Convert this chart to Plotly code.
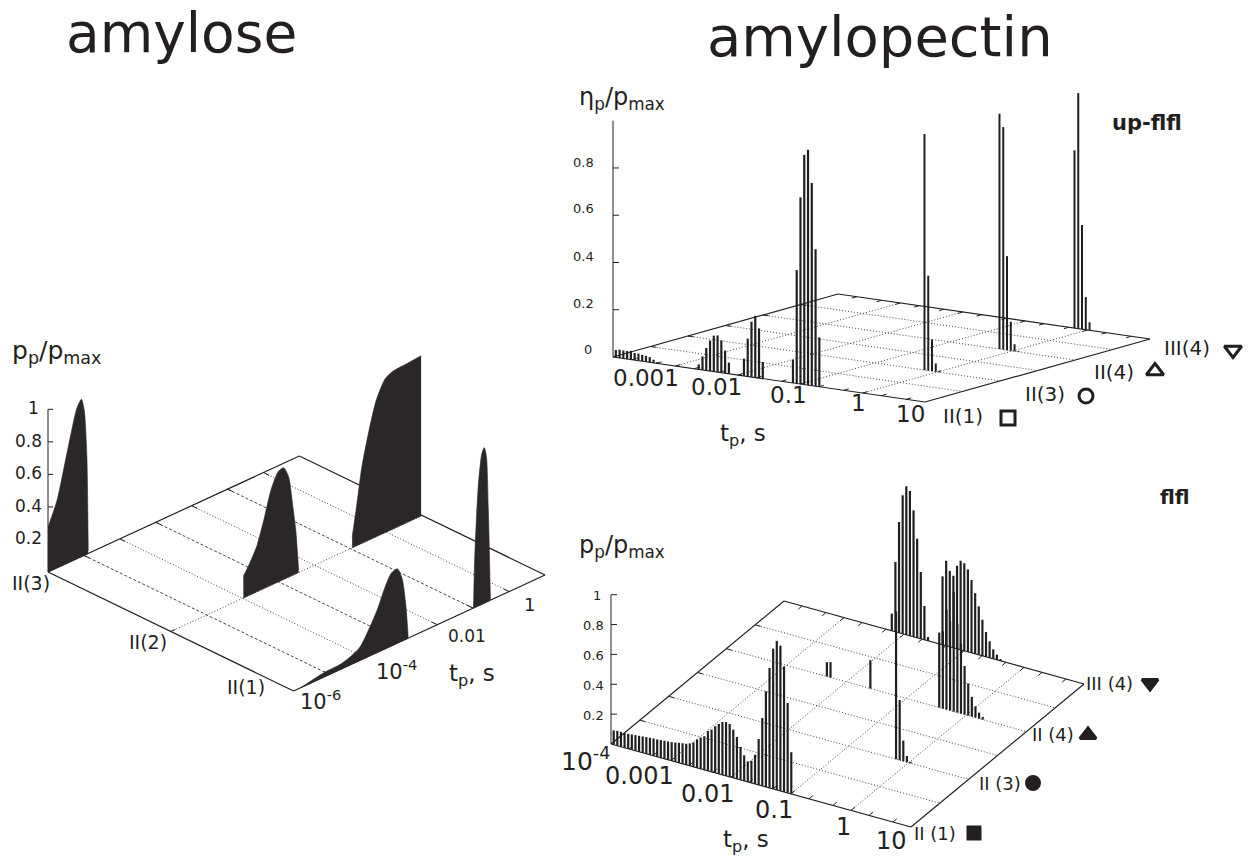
import numpy as np
import plotly.graph_objects as go

INK = "#231f20"
GRID = "#4a4748"
FONT = "DejaVu Sans"

# ---- amylose: (log10 t, p/pmax) outlines of the filled peaks
AM_1A_LOGT = [-5.80, -5.16, -4.66, -4.17, -3.87, -3.67, -3.43, -3.28, -3.11, -2.98, -2.88, -2.81]
AM_1A_VAL = [0.0, 0.027, 0.033, 0.078, 0.18, 0.262, 0.391, 0.447, 0.457, 0.385, 0.221, 0.01]
AM_1B_LOGT = [-0.99, -0.96, -0.86, -0.76, -0.69, -0.63, -0.58, -0.52]
AM_1B_VAL = [0.006, 0.289, 0.73, 0.924, 0.955, 0.891, 0.578, 0.008]
AM_2A_LOGT = [-3.98, -3.80, -3.61, -3.41, -3.21, -3.01, -2.86, -2.72, -2.60, -2.52, -2.44]
AM_2A_VAL = [0.133, 0.197, 0.279, 0.422, 0.586, 0.678, 0.687, 0.617, 0.42, 0.268, 0.014]
AM_2B_LOGT = [-0.95, -0.83, -0.68, -0.48, -0.28, -0.03, 0.21, 0.46, 0.97]
AM_2B_VAL = [0.067, 0.238, 0.469, 0.674, 0.838, 0.945, 0.971, 0.975, 0.985]
AM_3A_LOGT = [-6.0, -5.75, -5.55, -5.35, -5.2, -5.07, -4.99, -4.92, -4.88]
AM_3A_VAL = [0.277, 0.414, 0.6, 0.794, 0.922, 0.967, 0.891, 0.617, 0.02]

# ---- amylopectin: histogram bins (index on a log-t grid) and heights
UF_II1_BIN = [0, 1, 2, 3, 4, 5, 6, 7, 8, 9, 10, 11, 22, 23, 24, 25, 26, 27, 28, 29, 30, 33,
              34, 35, 36, 37, 38, 39, 47, 48, 49, 50, 51, 52, 53, 54]
UF_II1_VAL = [0.031, 0.035, 0.034, 0.034, 0.037, 0.03, 0.03, 0.027, 0.025, 0.022, 0.013, 0.005,
              0.021, 0.057, 0.095, 0.129, 0.152, 0.155, 0.136, 0.096, 0.047, 0.005,
              0.073, 0.16, 0.234, 0.261, 0.21, 0.07,
              0.099, 0.48, 0.79, 0.972, 0.996, 0.858, 0.58, 0.209]
UF_II3_BIN = [62, 63, 64, 65, 66]
UF_II3_VAL = [0.999, 0.402, 0.134, 0.035, 0.007]
UF_II4_BIN = [62, 63, 64, 65, 66, 67]
UF_II4_VAL = [0.996, 0.942, 0.398, 0.123, 0.03, 0.004]
UF_III4_BIN = [62, 63, 64, 65, 66]
UF_III4_VAL = [0.752, 0.997, 0.441, 0.138, 0.034]

FL_II1_BIN = list(range(50))
FL_II1_VAL = [0.096, 0.1, 0.1, 0.098, 0.1, 0.103, 0.105, 0.107, 0.109, 0.112, 0.114, 0.116,
              0.116, 0.118, 0.121, 0.123, 0.125, 0.129, 0.134, 0.138, 0.141, 0.15, 0.163, 0.19,
              0.208, 0.225, 0.266, 0.283, 0.312, 0.334, 0.354, 0.36, 0.354, 0.323, 0.28, 0.22,
              0.171, 0.137, 0.148, 0.195, 0.307, 0.454, 0.64, 0.803, 0.939, 0.998, 0.972, 0.84,
              0.602, 0.279]
FL_II3_BIN = [62, 63, 64, 65, 66]
FL_II3_VAL = [0.99, 0.404, 0.138, 0.042, 0.01]
FL_II4_BIN = [27, 28, 39, 58, 59, 60, 61, 62, 63, 64, 65, 66, 67, 68, 69, 70]
FL_II4_VAL = [0.096, 0.103, 0.19, 0.502, 0.518, 0.67, 0.6, 0.8, 0.594, 0.47, 0.326, 0.214,
              0.132, 0.076, 0.04, 0.018]
FL_III4_BIN = [29, 30, 31, 32, 33, 34, 35, 36, 37, 38, 39,
               43, 44, 45, 46, 47, 48, 49, 50, 51, 52, 53, 54, 55, 56, 57, 58, 59]
FL_III4_VAL = [0.115, 0.468, 0.742, 0.928, 0.995, 0.97, 0.847, 0.664, 0.448, 0.227, 0.026,
               0.459, 0.57, 0.509, 0.483, 0.557, 0.597, 0.587, 0.552, 0.488, 0.407, 0.325,
               0.242, 0.167, 0.111, 0.064, 0.035, 0.012]

BIN_START = -3.955
BIN_STEP = 0.0604


class Panel:
    """Oblique floor projection: u along log t, v across categories, z upward."""

    def __init__(self, origin, uvec, vvec, zscale, lo, hi):
        self.o, self.uv, self.vv, self.zs = np.array(origin, float), np.array(uvec, float), np.array(vvec, float), zscale
        self.lo, self.hi = lo, hi

    def p(self, logt, v, z=0.0):
        u = (logt - self.lo) / (self.hi - self.lo)
        return self.o + u * self.uv + v * self.vv + np.array([0.0, -z * self.zs])


PA = Panel((293.6, 691), (251.4, -116), (-245.6, -119), 162.7, -6, 1)
PB = Panel((613, 357), (312, 45), (225, -63), 236.3, -4, 1)
PC = Panel((611, 744), (300, 83), (173, -143), 149.3, -4, 1)

fig = go.Figure()


def seg(points, width=1.0, dash=None, color=INK):
    xs, ys = [], []
    for a, b in points:
        xs += [a[0], b[0], None]
        ys += [a[1], b[1], None]
    fig.add_trace(go.Scatter(x=xs, y=ys, mode="lines", hoverinfo="skip", showlegend=False,
                             line=dict(color=color, width=width, dash=dash)))


def floor(P, decades, vlines, dashes=None, minors=True):
    c = [P.p(P.lo, 0), P.p(P.hi, 0), P.p(P.hi, 1), P.p(P.lo, 1)]
    seg([(c[i], c[(i + 1) % 4]) for i in range(4)], 1.2, None, INK)
    dot = "1px,2px"
    for i, d in enumerate(decades):
        style = dashes[i] if dashes else dot
        seg([(P.p(d, 0), P.p(d, 1))], 1.0, style, GRID)
    for v in vlines:
        seg([(P.p(P.lo, v), P.p(P.hi, v))], 1.0, dot, GRID)
    ticks = []
    tl = 0.018 * (P.hi - P.lo)
    for v in vlines:
        ticks.append((P.p(P.lo, v), P.p(P.lo + tl, v)))
    mult = [0.0, 0.301, 0.699] if minors else [0.0]
    for d in range(P.lo, P.hi):
        for m in mult:
            if d + m == P.lo:
                continue
            ticks.append((P.p(d + m, 0), P.p(d + m, 0.022)))
            ticks.append((P.p(d + m, 1), P.p(d + m, 0.978)))
    seg(ticks, 1.0, None, INK)


def zaxis(P, v, top, tick_vals, tick_px):
    seg([(P.p(P.lo, v), P.p(P.lo, v, top))], 1.0, None, INK)
    seg([(P.p(P.lo, v, z), P.p(P.lo, v, z) + np.array([tick_px, 0])) for z in tick_vals], 1.0, None, INK)


def peak(P, logt, val, v):
    base = [P.p(logt[0], v), P.p(logt[-1], v)]
    top = [P.p(a, v, b) for a, b in zip(logt, val)]
    fig.add_trace(go.Scatter(x=[q[0] for q in base], y=[q[1] for q in base], mode="lines",
                             hoverinfo="skip", showlegend=False, line=dict(color="#2b2728", width=0.6)))
    fig.add_trace(go.Scatter(x=[q[0] for q in top], y=[q[1] for q in top], mode="lines", fill="tonexty",
                             fillcolor="#2b2728", hoverinfo="skip", showlegend=False,
                             line=dict(color="#2b2728", width=0.6, shape="spline", smoothing=0.7)))


def bars(P, bins, val, v, width):
    pairs = []
    for b, h in zip(bins, val):
        t = BIN_START + BIN_STEP * b
        pairs.append((P.p(t, v), P.p(t, v, h)))
    seg(pairs, width, None, INK)


# amylose panel
floor(PA, [-5, -4, -3, -2, -1, 0], [0.5],
      dashes=["3px,2px", "1px,2px", "3px,2px", "1px,2px", "3px,2px", "1px,2px"], minors=False)
zaxis(PA, 1.0, 1.0, [0.2, 0.4, 0.6, 0.8, 1.0], 5)
peak(PA, AM_3A_LOGT, AM_3A_VAL, 1.0)
peak(PA, AM_2B_LOGT, AM_2B_VAL, 0.5)
peak(PA, AM_2A_LOGT, AM_2A_VAL, 0.5)
peak(PA, AM_1B_LOGT, AM_1B_VAL, 0.0)
peak(PA, AM_1A_LOGT, AM_1A_VAL, 0.0)

# up-flfl panel
floor(PB, [-3, -2, -1, 0], [1 / 6, 2 / 6, 3 / 6, 4 / 6, 5 / 6])
zaxis(PB, 0.0, 1.0, [0.2, 0.4, 0.6, 0.8], 6)
bars(PB, UF_III4_BIN, UF_III4_VAL, 1.0, 2.0)
bars(PB, UF_II4_BIN, UF_II4_VAL, 2 / 3, 2.0)
bars(PB, UF_II3_BIN, UF_II3_VAL, 1 / 3, 2.0)
bars(PB, UF_II1_BIN, UF_II1_VAL, 0.0, 2.2)

# flfl panel
floor(PC, [-3, -2, -1, 0], [1 / 6, 2 / 6, 3 / 6, 4 / 6, 5 / 6])
zaxis(PC, 0.0, 1.0, [0.2, 0.4, 0.6, 0.8, 1.0], 6)
bars(PC, FL_III4_BIN, FL_III4_VAL, 1.0, 2.2)
bars(PC, FL_II4_BIN, FL_II4_VAL, 2 / 3, 2.2)
bars(PC, FL_II3_BIN, FL_II3_VAL, 1 / 3, 2.2)
bars(PC, FL_II1_BIN, FL_II1_VAL, 0.0, 2.2)

# category key glyphs
KEY_SYMBOLS = ["square-open", "circle-open", "triangle-up-open", "triangle-down-open",
               "square", "circle", "triangle-up", "triangle-down"]
KEY_X = [1008, 1086, 1155, 1233, 974, 1033, 1088, 1150]
KEY_Y = [418, 396, 371, 350, 833, 783, 735, 683]
KEY_SIZE = [14, 14, 15, 15, 12, 13, 14, 14]
fig.add_trace(go.Scatter(x=KEY_X, y=KEY_Y, mode="markers", hoverinfo="skip", showlegend=False,
                         marker=dict(symbol=KEY_SYMBOLS, size=KEY_SIZE, color=INK, opacity=1,
                                     line=dict(color=INK, width=3))))

LABELS = [
    ("amylose", 181, 33, 55), ("amylopectin", 880, 36, 56),
    ("p<sub>p</sub>/p<sub>max</sub>", 56, 352, 25),
    ("1", 33, 408, 17), ("0.8", 28, 441, 17), ("0.6", 28, 473, 17), ("0.4", 28, 506, 17), ("0.2", 28, 538, 17),
    ("II(3)", 31, 583, 19), ("II(2)", 148, 642, 19), ("II(1)", 246, 687, 19),
    ("10<sup>-6</sup>", 320, 700, 21), ("10<sup>-4</sup>", 396, 670, 21), ("0.01", 467, 636, 17), ("1", 529, 604, 18),
    ("t<sub>p</sub>, s", 472, 675, 23),
    ("η<sub>p</sub>/p<sub>max</sub>", 622, 98, 24), ("<b>up-flfl</b>", 1147, 123, 21),
    ("0.8", 583, 162, 13), ("0.6", 583, 208, 13), ("0.4", 583, 256, 13), ("0.2", 583, 303, 13), ("0", 588, 349, 13),
    ("0.001", 646, 378, 23), ("0.01", 716, 387, 23), ("0.1", 788, 395, 23), ("1", 858, 403, 23), ("10", 910, 414, 23),
    ("t<sub>p</sub>, s", 743, 435, 23),
    ("II(1)", 963, 416, 20), ("II(3)", 1045, 394, 20), ("II(4)", 1114, 372, 20), ("III(4)", 1187, 348, 20),
    ("p<sub>p</sub>/p<sub>max</sub>", 622, 546, 24), ("<b>flfl</b>", 1175, 497, 20),
    ("1", 597, 595, 13), ("0.8", 593, 625, 13), ("0.6", 593, 655, 13), ("0.4", 593, 685, 13), ("0.2", 593, 715, 13),
    ("10<sup>-4</sup>", 585, 759, 25), ("0.001", 639, 776, 24), ("0.01", 707, 794, 24), ("0.1", 774, 810, 24),
    ("1", 843, 827, 24), ("10", 891, 841, 24),
    ("t<sub>p</sub>, s", 746, 841, 23),
    ("II (1)", 935, 833, 18), ("II (3)", 1000, 783, 18), ("II (4)", 1053, 734, 18), ("III (4)", 1109, 683, 18),
]
for text, x, y, size in LABELS:
    fig.add_annotation(x=x, y=y, text=text, showarrow=False, xanchor="center", yanchor="middle",
                       font=dict(family=FONT, size=size, color=INK))

fig.update_layout(
    width=1256, height=859, margin=dict(l=0, r=0, t=0, b=0),
    paper_bgcolor="white", plot_bgcolor="white", showlegend=False,
    xaxis=dict(range=[0, 1256], visible=False, fixedrange=True),
    yaxis=dict(range=[859, 0], visible=False, fixedrange=True),
)
fig.write_html("out.html", config={"displayModeBar": False},
               post_script="document.body.style.margin='0';document.body.style.overflow='hidden';")
